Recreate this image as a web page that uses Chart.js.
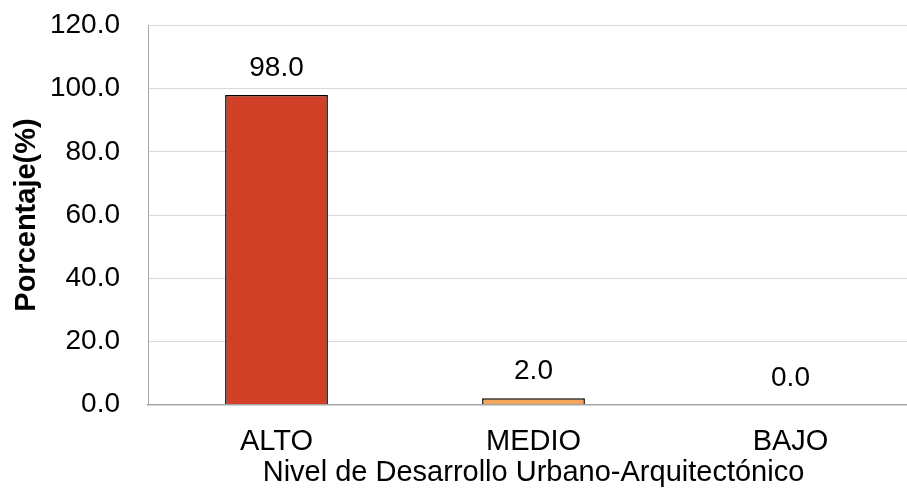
<!DOCTYPE html>
<html>
<head>
<meta charset="utf-8">
<script src="https://cdn.jsdelivr.net/npm/chart.js@4.4.1/dist/chart.umd.min.js"></script>
<style>
  html, body { margin: 0; padding: 0; background: #fff; overflow: hidden; }
  /* the original plot area runs past the right edge of the picture,
     so the canvas is a little wider than the window */
  #wrap { width: 919px; height: 495px; }
</style>
</head>
<body>
<div id="wrap"><canvas id="nivel-chart"></canvas></div>
<script>
const categories = ['ALTO', 'MEDIO', 'BAJO'];
const percentages = [98.0, 2.0, 0.0];
const barColors = ['#CF4027', '#F4A65C', '#A5A5A5'];
const yTicks = [0, 20, 40, 60, 80, 100, 120];

const FONT = 'Liberation Sans, Arial, sans-serif';

// value above each bar, one decimal like the original
const valueLabels = {
    id: 'valueLabels',
    afterDatasetsDraw(chart) {
        const ctx = chart.ctx;
        const meta = chart.getDatasetMeta(0);
        ctx.save();
        ctx.font = '28px ' + FONT;
        ctx.fillStyle = '#000';
        ctx.textAlign = 'center';
        ctx.textBaseline = 'alphabetic';
        meta.data.forEach((bar, i) => {
            ctx.fillText(percentages[i].toFixed(1), bar.x, bar.y - 19);
        });
        ctx.restore();
    }
};

new Chart(document.getElementById('nivel-chart'), {
    type: 'bar',
    data: {
        labels: categories,
        datasets: [{
            label: 'Porcentaje',
            data: percentages,
            backgroundColor: barColors,
            borderColor: '#000',
            borderWidth: 1.5,
            categoryPercentage: 1,
            barPercentage: 0.40
        }]
    },
    options: {
        responsive: true,
        maintainAspectRatio: false,
        animation: false,
        layout: { padding: { top: 25.5, right: 0, left: 0, bottom: 0 } },
        plugins: {
            legend: { display: false },
            tooltip: { enabled: false }
        },
        scales: {
            x: {
                grid: { display: false, drawTicks: false },
                border: { display: true, color: '#a6a6a6', width: 1.5 },
                ticks: { color: '#000', font: { family: FONT, size: 29 }, padding: 20 },
                title: {
                    display: true,
                    text: 'Nivel de Desarrollo Urbano-Arquitectónico',
                    color: '#000',
                    font: { family: FONT, size: 29 },
                    padding: { top: 0, bottom: 5 }
                },
                afterFit(scale) {
                    scale.height = 90.5;
                    scale.paddingLeft = 0;
                    scale.paddingRight = 0;
                }
            },
            y: {
                min: 0,
                max: 120,
                afterBuildTicks(scale) { scale.ticks = yTicks.map(v => ({ value: v })); },
                grid: { color: '#d9d9d9', lineWidth: 1, drawTicks: false },
                border: { display: true, color: '#a6a6a6', width: 1 },
                ticks: {
                    color: '#000',
                    font: { family: FONT, size: 28 },
                    padding: 28,
                    callback: v => Number(v).toFixed(1)
                },
                title: {
                    display: true,
                    text: 'Porcentaje(%)',
                    color: '#000',
                    font: { family: FONT, size: 29, weight: 'bold' },
                    padding: { top: 10, bottom: 0 }
                },
                afterFit(scale) {
                    scale.width = 148;
                    scale.paddingTop = 0;
                    scale.paddingBottom = 0;
                }
            }
        }
    },
    plugins: [valueLabels]
});
</script>
</body>
</html>
